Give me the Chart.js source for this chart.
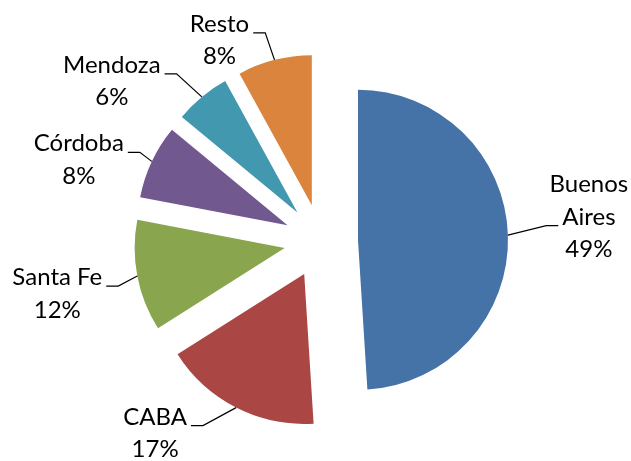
<!DOCTYPE html>
<html>
<head>
<meta charset="utf-8">
<script src="https://cdn.jsdelivr.net/npm/chart.js@4/dist/chart.umd.min.js"></script>
<style>
  html, body { margin: 0; padding: 0; background: #fff; }
  .chart__wrap { width: 631px; height: 461px; position: relative; }
</style>
</head>
<body>
<div class="chart__wrap"><canvas id="chart"></canvas></div>
<script>
// datos
const provincias = ['Buenos Aires', 'CABA', 'Santa Fe', 'Córdoba', 'Mendoza', 'Resto'];
const valores = [49, 17, 12, 8, 6, 8];
const colores = ['#4572A7', '#AA4643', '#89A54E', '#71588F', '#4198AF', '#DB843D'];

// label layout: text center x / first baseline, relative to the slice's outer mid point
const labelDx = [81, -81, -80, -73, -90, -55];
const labelDy = [-43, 17, 9, -10, -24, -28];

const explode = 37;
const lineH = 32.5;

// move every slice out along its middle angle
const explodePlugin = {
  id: 'explode',
  afterDatasetUpdate(chart, args) {
    args.meta.data.forEach(function (arc) {
      const mid = (arc.startAngle + arc.endAngle) / 2;
      arc.x += Math.cos(mid) * explode;
      arc.y += Math.sin(mid) * explode;
    });
  }
};

// labels with leader lines
const labelsPlugin = {
  id: 'pieLabels',
  afterDatasetsDraw(chart) {
    const ctx = chart.ctx;
    const arcs = chart.getDatasetMeta(0).data;
    const total = valores.reduce((a, b) => a + b, 0);
    ctx.save();
    ctx.font = '24px Lato';
    ctx.fillStyle = '#000';
    ctx.strokeStyle = '#000';
    ctx.lineWidth = 1.2;
    ctx.textAlign = 'center';
    ctx.textBaseline = 'alphabetic';
    arcs.forEach(function (arc, i) {
      const mid = (arc.startAngle + arc.endAngle) / 2;
      const ex = arc.x + Math.cos(mid) * arc.outerRadius;
      const ey = arc.y + Math.sin(mid) * arc.outerRadius;

      // wrap long names
      let lines = [provincias[i]];
      if (ctx.measureText(provincias[i]).width > 110) lines = provincias[i].split(' ');
      lines.push(Math.round(valores[i] / total * 100) + '%');

      const tx = ex + labelDx[i];
      const ty = ey + labelDy[i];
      lines.forEach(function (t, k) {
        ctx.fillText(t, tx, ty + k * lineH);
      });

      // leader line goes to the middle text line
      const k = Math.floor((lines.length - 1) / 2);
      const w = ctx.measureText(lines[k]).width;
      const ly = ty + k * lineH + 1;
      const side = labelDx[i] < 0 ? 1 : -1;
      const tail = tx + side * (w / 2 + 4);
      const elbow = tail + side * 12;
      ctx.beginPath();
      ctx.moveTo(ex, ey);
      ctx.lineTo(elbow, ly);
      ctx.lineTo(tail, ly);
      ctx.stroke();
    });
    ctx.restore();
  }
};

new Chart(document.getElementById('chart'), {
  type: 'pie',
  data: {
    labels: provincias,
    datasets: [{
      data: valores,
      backgroundColor: colores,
      borderWidth: 0
    }]
  },
  options: {
    responsive: true,
    maintainAspectRatio: false,
    animation: false,
    radius: 150,
    layout: {
      padding: { left: 11, right: 0, top: 21, bottom: 0 }
    },
    plugins: {
      legend: { display: false },
      tooltip: { enabled: false }
    }
  },
  plugins: [explodePlugin, labelsPlugin]
});
</script>
</body>
</html>
